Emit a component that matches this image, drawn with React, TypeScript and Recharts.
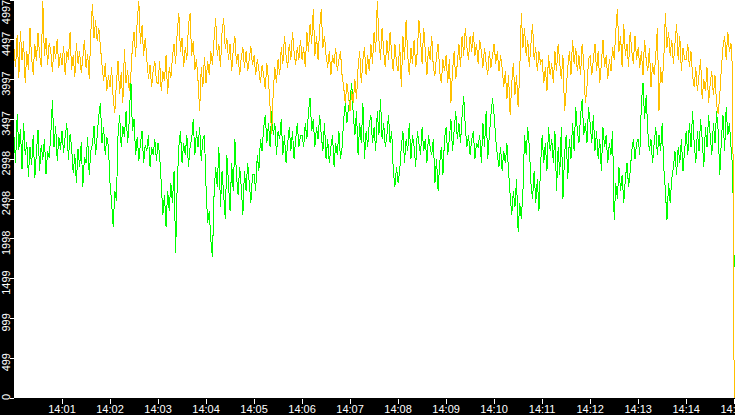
import { LineChart, Line, XAxis, YAxis, CartesianGrid } from 'recharts';

// one row per minute, a sample every 2 s (14:00:00 .. 14:15:00)
const upperRows: number[][] = [
  [4380, 4150, 4560, 4020, 4610, 4240, 4480, 3950, 4350, 4120, 4640, 4280, 4060, 4450, 4230, 4580, 4310, 4160, 4980, 4290, 4520, 4180, 4460, 4350, 4090, 4420, 4260, 4510, 4140, 4330],
  [4180, 4420, 4050, 4360, 4250, 4590, 4120, 4310, 4030, 4460, 4200, 4350, 4080, 4270, 4500, 4150, 4320, 4010, 4590, 4950, 4520, 4740, 4480, 4650, 4410, 4180, 3980, 4200, 3850, 4050],
  [3900, 4150, 3750, 3580, 3960, 4230, 3820, 4090, 3700, 4380, 3950, 4120, 3860, 4050, 4420, 4600, 4280, 4750, 4980, 4450, 4680, 4300, 4520, 4250, 4010, 4180, 3900, 4120, 4230, 3970],
  [3950, 4230, 3850, 4100, 3980, 4300, 3820, 4150, 4020, 4280, 4450, 4200, 4600, 4830, 4350, 4520, 4150, 4400, 4250, 4680, 4830, 4300, 4480, 4120, 4250, 3980, 3600, 4150, 3900, 4280],
  [3950, 4230, 4050, 4350, 4180, 4500, 4770, 4300, 4450, 4150, 4600, 4770, 4380, 4520, 4250, 4450, 4100, 4380, 4550, 4200, 4320, 4050, 4280, 4400, 4150, 4350, 4100, 4250, 4420, 4180],
  [4300, 4050, 4250, 4120, 3950, 4180, 4050, 3880, 4200, 4000, 3650, 3320, 3850, 4150, 3950, 4250, 4050, 4400, 4200, 4550, 4300, 4150, 4450, 4250, 4600, 4350, 4180, 4400, 4250, 4500],
  [4250, 4400, 4150, 4600, 4350, 4700, 4450, 4880, 4300, 4550, 4250, 4650, 4880, 4400, 4550, 4300, 4150, 4350, 4050, 4300, 4200, 4400, 4100, 4250, 4350, 4050, 3900, 3700, 3950, 3800],
  [3600, 3850, 3700, 4000, 3750, 4150, 4350, 3950, 4250, 4400, 4050, 4300, 4100, 4450, 4200, 4600, 4350, 4983, 4500, 4250, 4650, 4350, 4150, 4500, 4250, 4600, 4300, 4100, 4450, 4200],
  [4100, 4450, 3900, 4550, 4250, 4750, 4300, 4050, 4400, 4200, 4500, 4150, 4350, 4750, 4500, 4200, 4650, 4350, 4050, 4400, 4250, 4550, 4150, 4050, 4300, 4450, 4100, 3950, 4250, 4100],
  [4300, 3950, 4250, 3700, 4100, 4350, 4000, 4200, 4450, 4150, 4550, 4300, 4650, 4400, 4250, 4550, 4350, 4600, 4300, 4450, 4200, 4500, 4350, 4150, 4400, 4200, 4050, 4350, 4150, 4300],
  [4450, 4200, 4350, 4100, 4300, 4150, 3900, 4100, 3750, 4050, 3550, 3950, 4200, 3800, 4050, 3650, 4100, 4830, 4400, 4650, 4300, 4500, 4150, 4450, 4700, 4250, 4400, 4100, 4350, 4200],
  [4250, 3950, 4150, 3850, 4300, 4050, 4200, 3950, 4350, 4100, 4450, 4200, 4000, 4300, 3600, 3850, 4150, 4350, 4050, 4500, 4200, 4400, 4100, 4300, 4050, 4450, 4200, 3700, 3900, 4250],
  [4300, 4050, 4250, 4450, 4100, 4350, 3950, 4200, 4500, 4150, 4300, 4000, 4250, 4100, 4400, 4250, 4600, 4880, 4350, 4550, 4150, 4700, 4300, 4450, 4150, 4600, 4350, 4200, 4550, 4250],
  [4400, 4150, 4350, 4050, 4500, 4250, 4100, 4400, 3900, 4200, 4050, 4300, 4650, 3600, 4150, 3950, 4250, 4830, 4400, 4600, 4300, 4500, 4200, 4450, 4700, 4250, 4550, 4100, 4400, 4250],
  [4250, 4450, 4150, 4350, 4050, 3900, 4150, 3850, 4050, 4250, 3750, 4000, 3850, 4150, 3700, 3950, 4100, 3800, 4050, 3680, 3570, 3800, 4150, 4400, 4550, 4250, 4600, 4350, 4450, 4100],
  [0],
];

const lowerRows: number[][] = [
  [3280, 2950, 3560, 3120, 3380, 2870, 3450, 3050, 3210, 2780, 3150, 2920, 3300, 2760, 3080, 3360, 2850, 3180, 2990, 3250, 2810, 3100, 3020, 3300, 3740, 3150, 3420, 2980, 3280, 3120],
  [3350, 3080, 3290, 3450, 2990, 3310, 3150, 2820, 3060, 2700, 3130, 2900, 3210, 2650, 3020, 2950, 3280, 2800, 3100, 3180, 3420, 3050, 3300, 3550, 3700, 3200, 3400, 3050, 3280, 3150],
  [2700, 2450, 2150, 2600, 2480, 3300, 3550, 3150, 3420, 3280, 3600, 3200, 3480, 4020, 3350, 3500, 3050, 3280, 2980, 3200, 3350, 2950, 3180, 3100, 3300, 2900, 3150, 3050, 3250, 2980],
  [3200, 3050, 2700, 2300, 2550, 2150, 2600, 2350, 2700, 2450, 2850, 1815, 2700, 3150, 3350, 2950, 3200, 3050, 3300, 2900, 3150, 3250, 3500, 3050, 3350, 3150, 3400, 2980, 3250, 3300],
  [2650, 2200, 2350, 1980, 1765, 2550, 2900, 2650, 3150, 2400, 2850, 2550, 2250, 3050, 2700, 2350, 2950, 2600, 3250, 2800, 2550, 2900, 2650, 2300, 2850, 2600, 2950, 2700, 2450, 2800],
  [2800, 2600, 3050, 2850, 3250, 3100, 3400, 3550, 3200, 3450, 3150, 3600, 3300, 3450, 3050, 3350, 3250, 3500, 3050, 3300, 2950, 3200, 3400, 3100, 3350, 3000, 3250, 3450, 3150, 3300],
  [3300, 3150, 3450, 3250, 3600, 3770, 3350, 3500, 3150, 3400, 3250, 3550, 3300, 3100, 3450, 3000, 3250, 2950, 3150, 3300, 2900, 3200, 3050, 3350, 3000, 3150, 3500, 3700, 3450, 3650],
  [3750, 3960, 3550, 3300, 3600, 3050, 3450, 3200, 3700, 3000, 3350, 3150, 3450, 3550, 3200, 3400, 3100, 3600, 3300, 3750, 3250, 3450, 3150, 3300, 3550, 3200, 3350, 2850, 2650, 2900],
  [2700, 2850, 3150, 3350, 2950, 3250, 3100, 3450, 3000, 3300, 3150, 2900, 3350, 3200, 3050, 3400, 3100, 3250, 2950, 3300, 3150, 3050, 3250, 2700, 3000, 2600, 2950, 3150, 2800, 3250],
  [3400, 3050, 3250, 3500, 3100, 3350, 3600, 3250, 3450, 3200, 3550, 3790, 3400, 3150, 3300, 3050, 3250, 3350, 3000, 3200, 3150, 3300, 2950, 3450, 3150, 3600, 3000, 3300, 3550, 3760],
  [3550, 3250, 3050, 2900, 3150, 2850, 3100, 2950, 3200, 2850, 2550, 2300, 2600, 2400, 2750, 2080, 2450, 2250, 2600, 3300, 3050, 3400, 3150, 2700, 2500, 2850, 2450, 2750, 2350, 2900],
  [3300, 2950, 3200, 2850, 3400, 3100, 3250, 2950, 3350, 2600, 3150, 2800, 3400, 2500, 3050, 3300, 2750, 3250, 3000, 3450, 3100, 3650, 3350, 3200, 3550, 3750, 3300, 3450, 3200, 3650],
  [3450, 3200, 3550, 3100, 3350, 3000, 3250, 2850, 3400, 3150, 3300, 2950, 3200, 3050, 3350, 2230, 2700, 2500, 2900, 2600, 2800, 2450, 2750, 2950, 2650, 2850, 3100, 3250, 3000, 3200],
  [3250, 3050, 3700, 3960, 3500, 3800, 3350, 3100, 3250, 2950, 3200, 3400, 3050, 3300, 3100, 3450, 2900, 2600, 2230, 2700, 2450, 2750, 2900, 3100, 2800, 3150, 2950, 3250, 2850, 3100],
  [3350, 3050, 3450, 3150, 3600, 3200, 2950, 3350, 3100, 3500, 3250, 2900, 3400, 3150, 3550, 3300, 3050, 3450, 3200, 3600, 3350, 2800, 3250, 3550, 3100, 3650, 3300, 3450, 3150, 2900],
  [1650],
];

const STEP_SECONDS = 2;
const Y_MAX = 4997;
const yTicks = [0, 1, 2, 3, 4, 5, 6, 7, 8, 9, 10].map((i) => (i * Y_MAX) / 10);
const xTicks = [1, 2, 3, 4, 5, 6, 7, 8, 9, 10, 11, 12, 13, 14, 15].map((m) => m * 60);

const upper = upperRows.flat();
const lower = lowerRows.flat();
const data = upper.map((v, i) => ({ t: i * STEP_SECONDS, upper: v, lower: lower[i] }));

const FONT = '"Liberation Sans", Arial, sans-serif';
const PLOT_BOTTOM = 398;

const XTick = (props: any) => {
  const { x, payload } = props;
  const min = Math.round(payload.value / 60);
  const label = `14:${String(min).padStart(2, '0')}`;
  return (
    <g>
      <line x1={x} x2={x} y1={PLOT_BOTTOM + 1} y2={PLOT_BOTTOM + 6} stroke="#fff" shapeRendering="crispEdges" />
      <text x={x} y={413} textAnchor="middle" fill="#fff" fontSize={11} fontFamily={FONT}>
        {label}
      </text>
    </g>
  );
};

const YTick = (props: any) => {
  const { y, payload } = props;
  const label = String(Math.floor(payload.value + 1e-6));
  const half = label.length * 3;
  const cy = Math.min(Math.max(y + 4, half), 400 - half);
  return (
    <g>
      <line x1={10} x2={14} y1={y} y2={y} stroke="#fff" shapeRendering="crispEdges" />
      <text
        transform={`translate(10, ${cy}) rotate(-90)`}
        textAnchor="middle"
        fill="#fff"
        fontSize={11}
        fontFamily={FONT}
      >
        {label}
      </text>
    </g>
  );
};

const App = () => {
  return (
    <div style={{ position: 'absolute', left: 0, top: 0, width: 735, height: 415, background: '#000' }}>
      <LineChart width={735} height={415} data={data} margin={{ top: 0, right: 0, bottom: 0, left: 0 }}>
        <CartesianGrid horizontal={false} vertical={false} fill="#ffffff" />
        <XAxis
          dataKey="t"
          type="number"
          domain={[0, 901]}
          ticks={xTicks}
          interval={0}
          height={17}
          axisLine={false}
          tickLine={false}
          tick={<XTick />}
        />
        <YAxis
          type="number"
          domain={[0, Y_MAX]}
          ticks={yTicks}
          interval={0}
          width={14}
          axisLine={false}
          tickLine={false}
          tick={<YTick />}
        />
        <Line
          type="linear"
          dataKey="lower"
          stroke="#00ff00"
          strokeWidth={1}
          dot={false}
          shapeRendering="crispEdges"
          isAnimationActive={false}
        />
        <Line
          type="linear"
          dataKey="upper"
          stroke="#ffc000"
          strokeWidth={1}
          dot={false}
          shapeRendering="crispEdges"
          isAnimationActive={false}
        />
      </LineChart>
    </div>
  );
};

export default App;
